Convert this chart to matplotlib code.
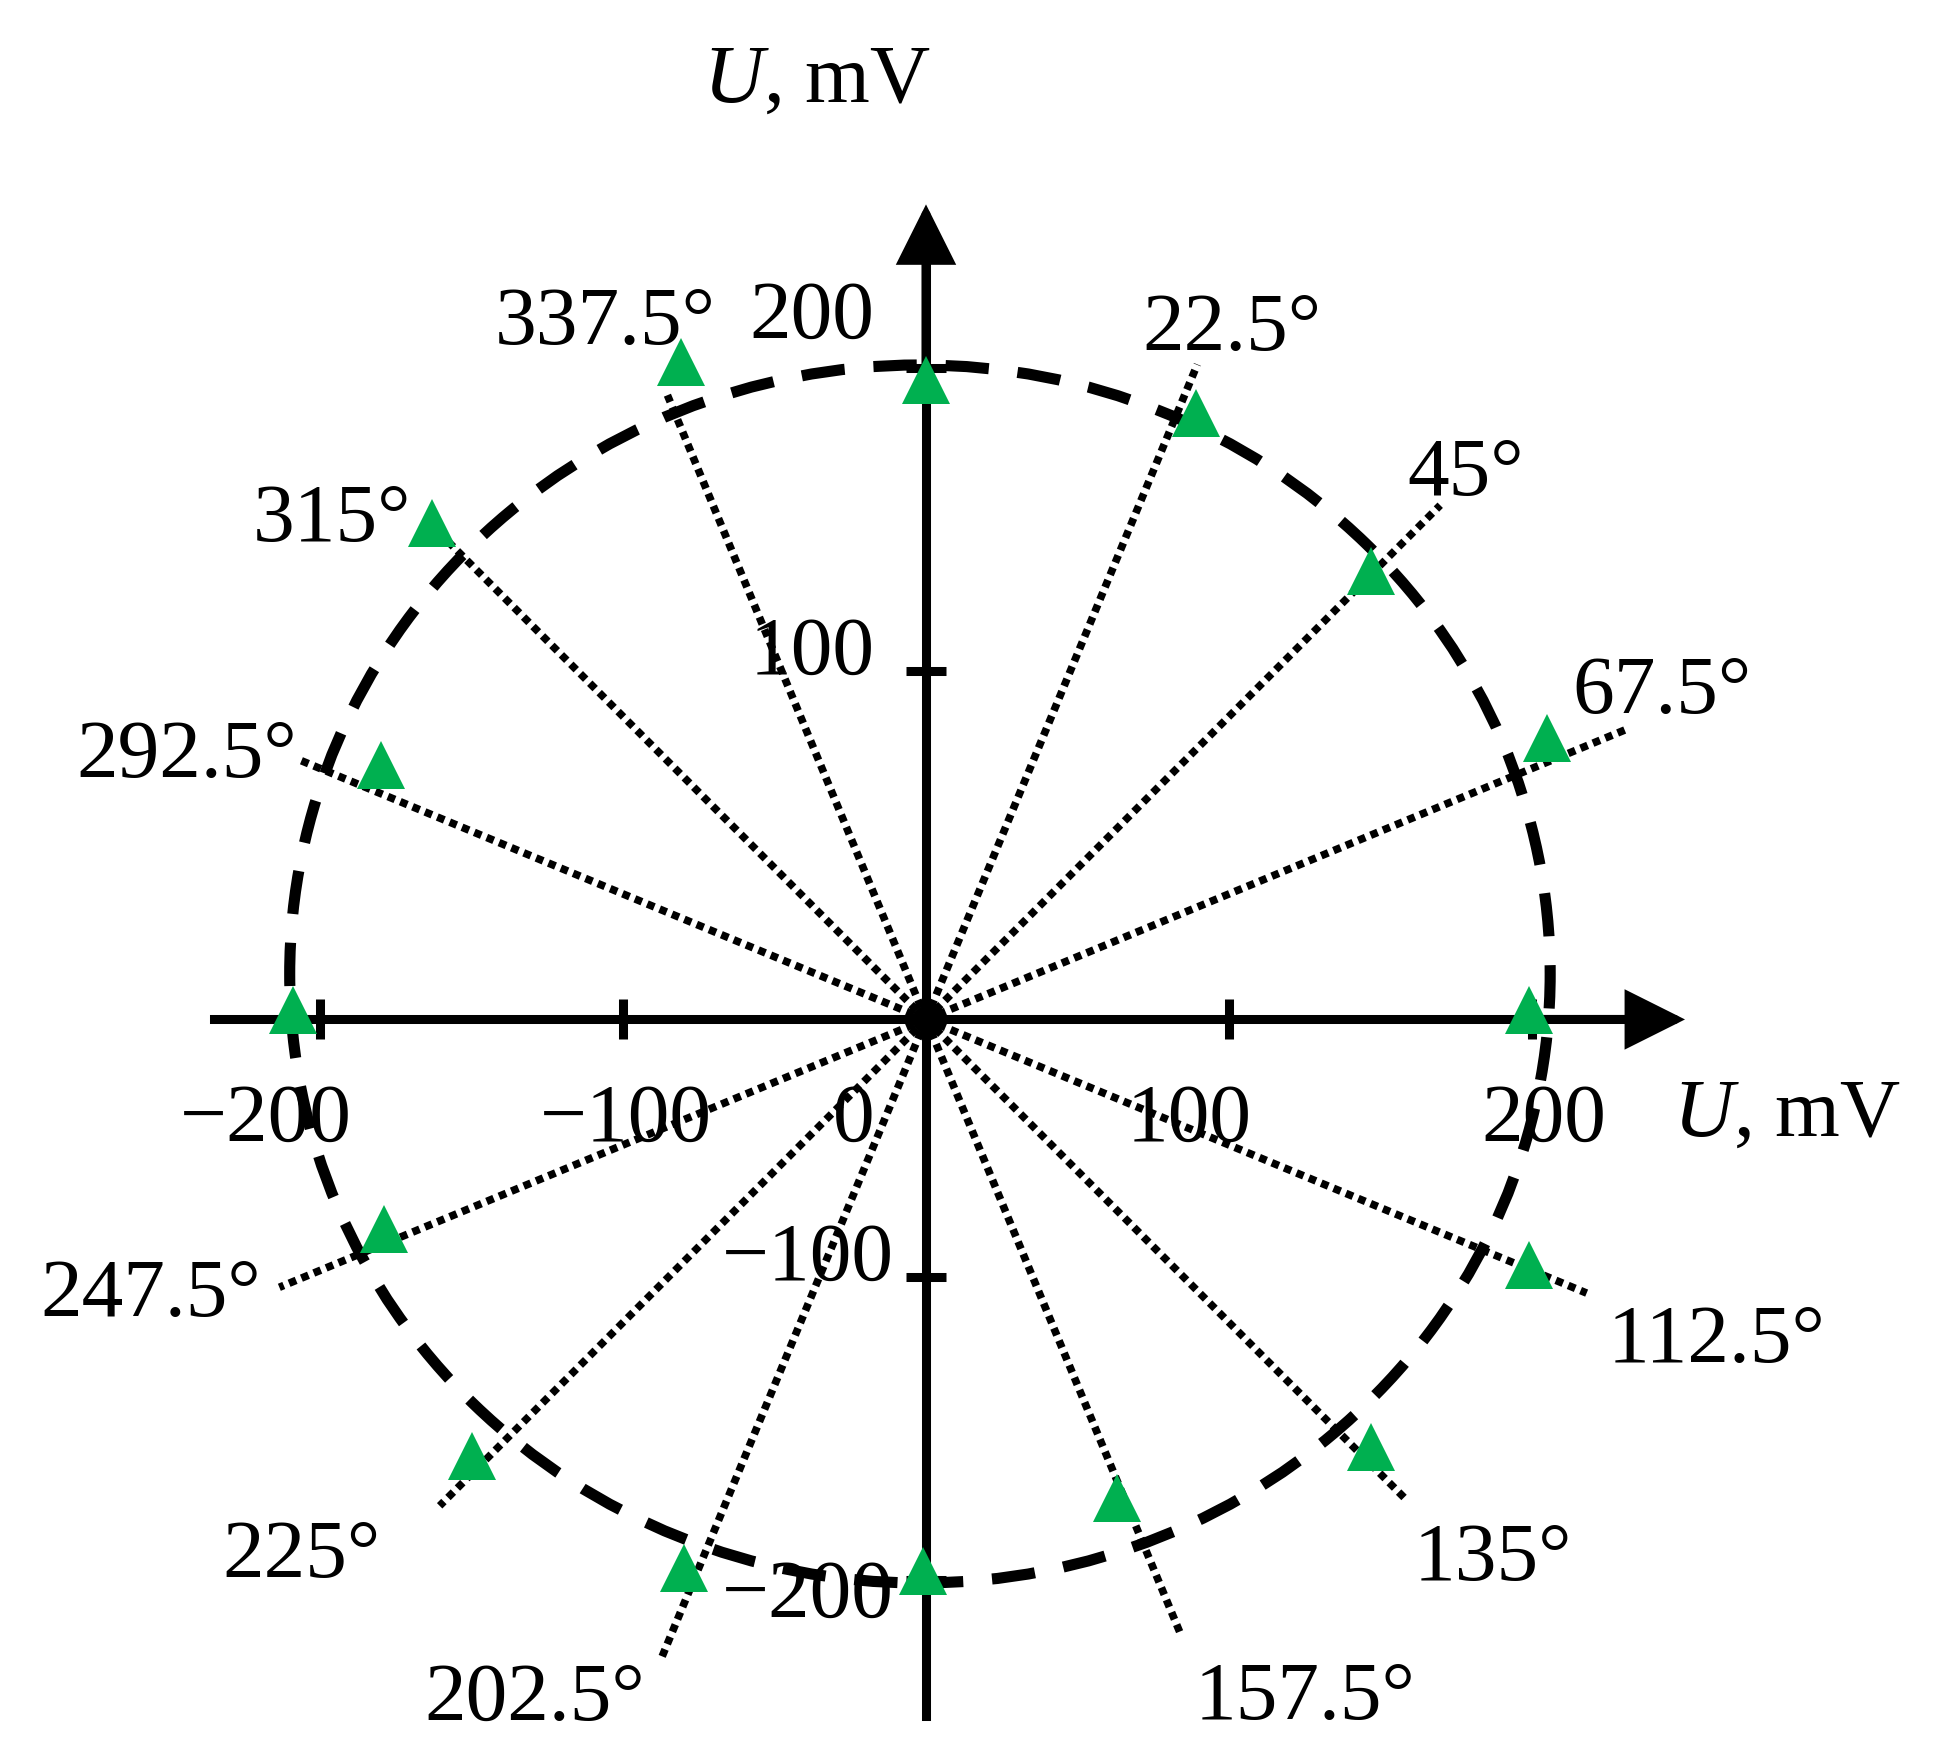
"""
Polar scatter of the measured signal amplitude U (mV) for 16 probe
orientations, drawn on hand-made cross axes with a 200 mV reference circle.
"""
import numpy as np
import matplotlib
matplotlib.use("Agg")
import matplotlib.pyplot as plt
from matplotlib.patches import Ellipse

plt.rcParams["font.family"] = ["Liberation Serif", "DejaVu Serif"]
plt.rcParams["mathtext.fontset"] = "custom"
plt.rcParams["mathtext.rm"] = "Liberation Serif"
plt.rcParams["mathtext.it"] = "Liberation Serif:italic"

# ---- data (mV) ----
angles_deg = [0, 22.5, 45, 67.5, 90, 112.5, 135, 157.5,
              180, 202.5, 225, 247.5, 270, 292.5, 315, 337.5]
u_x = [0, 89, 147, 205, 199, 199, 147, 63,
       -1, -80, -150, -179, -209, -180, -163, -81]
u_y = [196, 185, 133, 78, -12, -96, -156, -173,
       -197, -196, -159, -84, -12, 69, 149, 202]

# dotted direction guides (angle clockwise from +U_y, length in mV)
guide_angles = [22.5, 45, 67.5, 112.5, 135, 157.5,
                202.5, 225, 247.5, 292.5, 315, 337.5]
guide_len = [234, 240, 251, 236, 225, 220, 228, 227, 231, 224, 223, 223]

# reference circle (mV)
circle_cx = -2
circle_rx = 208
circle_ry = 201

tick_values = [-200, -100, 100, 200]

# ---- layout ----
PX_PER_MV = 3.03
W, H = 1946, 1764
X0_PX, Y0_PX = 926, 974          # where U = (0, 0) sits in the picture
AXIS_Y = -15                     # horizontal axis is drawn slightly low

# label anchors (data coords, text baseline)
angle_label_xy = [(101, 206), (178, 158), (243, 86), (261, -128),
                  (187, -200), (125, -246), (-129, -246), (-206, -199),
                  (-256, -113), (-244, 65), (-196, 143), (-106, 208)]
xtick_label_x = [-218, -99, 87, 204]
ytick_label_base = [-212, -101, 99, 210]
ytick_label_right = [-10.5, -10.5, -17, -17]

FS = 60
GREEN = "#00B050"

fig = plt.figure(figsize=(W / 100, H / 100), dpi=100)
ax = fig.add_axes([0, 0, 1, 1])
ax.set_xlim(-X0_PX / PX_PER_MV, (W - X0_PX) / PX_PER_MV)
ax.set_ylim((Y0_PX - H) / PX_PER_MV, Y0_PX / PX_PER_MV)

# axes as spines with arrows
for side in ["top", "right"]:
    ax.spines[side].set_visible(False)
ax.spines["left"].set_position(("data", 0))
ax.spines["bottom"].set_position(("data", AXIS_Y))
ax.spines["left"].set_bounds(-245, 240)
ax.spines["bottom"].set_bounds(-235, 238)
for side in ["left", "bottom"]:
    ax.spines[side].set_linewidth(6.5)
    ax.spines[side].set_color("black")

ax.set_xticks(tick_values)
ax.set_yticks(tick_values)
ax.tick_params(direction="inout", length=29, width=6.5, color="black",
               labelbottom=False, labelleft=False)

arrow = dict(arrowstyle="-|>,head_length=1.0,head_width=0.5",
             mutation_scale=33, lw=6.5, color="black",
             shrinkA=0, shrinkB=0, joinstyle="miter")
ax.annotate("", xy=(0, 254), xytext=(0, 200), arrowprops=arrow, zorder=4)
ax.annotate("", xy=(250.5, AXIS_Y), xytext=(200, AXIS_Y), arrowprops=arrow,
            zorder=4)

# dotted direction guides from the drawn origin
for a, L in zip(guide_angles, guide_len):
    t = np.deg2rad(a)
    ax.plot([0, L * np.sin(t)], [AXIS_Y, AXIS_Y + L * np.cos(t)],
            color="black", lw=5.5, linestyle=(0, (1, 0.75)),
            dash_capstyle="butt", zorder=2)
ax.plot([0], [AXIS_Y], marker="o", markersize=20, color="black", zorder=2)

# dashed reference circle
ax.add_patch(Ellipse((circle_cx, 0), 2 * circle_rx, 2 * circle_ry,
                     fill=False, ec="black", lw=8,
                     linestyle=(0, (3.9, 2.6)), zorder=3))

# measured points
ax.plot(u_x, u_y, linestyle="none", marker="^", markersize=34.5,
        markerfacecolor=GREEN, markeredgewidth=0, zorder=5)

# angle labels
for a, (lx, ly) in zip(guide_angles, angle_label_xy):
    ax.text(lx, ly, f"{a:g}°", fontsize=FS, ha="center", va="baseline")

# tick labels
for v, lx in zip(tick_values, xtick_label_x):
    ax.text(lx, -55, f"{v}".replace("-", "\u2212"), fontsize=FS,
            ha="center", va="baseline")
ax.text(-24, -55, "0", fontsize=FS, ha="center", va="baseline")
for v, base, right in zip(tick_values, ytick_label_base, ytick_label_right):
    ax.text(right, base, f"{v}".replace("-", "\u2212"), fontsize=FS,
            ha="right", va="baseline")

# axis titles
ax.text(-36, 288, "$U$, mV", fontsize=FS, ha="center", va="baseline")
ax.text(284, -53.5, "$U$, mV", fontsize=FS, ha="center", va="baseline")

fig.savefig("out.png", dpi=100, facecolor="white")
